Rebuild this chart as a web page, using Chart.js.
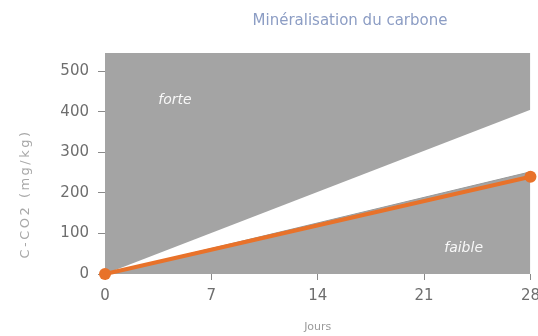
<!DOCTYPE html>
<html>
<head>
<meta charset="utf-8">
<script src="https://cdn.jsdelivr.net/npm/chart.js@4/dist/chart.umd.min.js"></script>
<style>
  html, body { margin: 0; padding: 0; background: #ffffff; overflow: hidden; width: 538px; height: 336px; }
  canvas { display: block; }
</style>
</head>
<body>
<canvas id="c" width="547" height="336"></canvas>
<script>
// ---- data ----
const days = [0, 28];
const forteLimit = [0, 405];   // upper boundary of the "forte" zone
const faibleLimit = [0, 252];  // upper boundary of the "faible" zone
const mesure = [0, 240];       // measured C-CO2
const xTicks = [0, 7, 14, 21, 28];
const yTicks = [0, 100, 200, 300, 400, 500];
const chartTitle = 'Minéralisation du carbone';
const yTitle = 'C-CO2 (mg/kg)';
const xTitle = 'Jours';
const zoneLabels = [
  { text: 'forte', x: 4.6, y: 428 },
  { text: 'faible', x: 23.6, y: 64 }
];

const GRAY = '#a4a4a4';
const ORANGE = '#e8722a';
const FONT = '"DejaVu Sans", sans-serif';

const toXY = (xs, ys) => xs.map((x, i) => ({ x: x, y: ys[i] }));

const textPlugin = {
  id: 'texts',
  afterDraw(chart) {
    const ctx = chart.ctx;
    const xs = chart.scales.x, ys = chart.scales.y;
    ctx.save();
    // chart title
    ctx.font = '15px ' + FONT;
    ctx.fillStyle = '#8c9dc4';
    ctx.textAlign = 'center';
    ctx.textBaseline = 'middle';
    ctx.fillText(chartTitle, 350, 21);
    // y axis title
    ctx.save();
    ctx.translate(26, 194);
    ctx.rotate(-Math.PI / 2);
    ctx.font = '13px ' + FONT;
    ctx.letterSpacing = '2.5px';
    ctx.fillStyle = '#a8a8a8';
    ctx.fillText(yTitle, 0, 0);
    ctx.restore();
    // zone labels
    ctx.font = 'italic 14px ' + FONT;
    ctx.fillStyle = 'rgba(255,255,255,0.92)';
    zoneLabels.forEach(l => {
      ctx.fillText(l.text, xs.getPixelForValue(l.x), ys.getPixelForValue(l.y));
    });
    ctx.restore();
  }
};

new Chart(document.getElementById('c'), {
  type: 'line',
  data: {
    datasets: [
      {
        label: 'forte',
        data: toXY(days, forteLimit),
        fill: 'end',
        backgroundColor: GRAY,
        borderColor: GRAY,
        borderWidth: 0,
        pointRadius: 0,
        order: 3
      },
      {
        label: 'faible',
        data: toXY(days, faibleLimit),
        fill: 'origin',
        backgroundColor: GRAY,
        borderColor: '#9a9a9a',
        borderWidth: 1,
        pointRadius: 0,
        order: 2
      },
      {
        label: 'C-CO2',
        data: toXY(days, mesure),
        fill: false,
        borderColor: ORANGE,
        backgroundColor: ORANGE,
        borderWidth: 4,
        pointRadius: 6,
        pointBorderWidth: 0,
        pointBackgroundColor: ORANGE,
        clip: false,
        order: 1
      }
    ]
  },
  options: {
    responsive: false,
    devicePixelRatio: 1,
    animation: false,
    events: [],
    layout: { padding: { top: 53, left: 0, right: 0, bottom: 0 } },
    plugins: {
      legend: { display: false },
      tooltip: { enabled: false },
      title: { display: false }
    },
    scales: {
      x: {
        type: 'linear',
        min: xTicks[0],
        max: xTicks[xTicks.length - 1],
        afterBuildTicks: s => { s.ticks = xTicks.map(v => ({ value: v })); },
        afterFit: s => { s.height = 62; },
        ticks: {
          color: '#6e6e6e',
          font: { family: FONT, size: 15 },
          padding: 7,
          maxRotation: 0,
          autoSkip: false
        },
        grid: { drawOnChartArea: false, drawTicks: true, tickLength: 6, color: '#8a8a8a' },
        border: { display: false },
        title: {
          display: true,
          text: xTitle,
          color: '#9a9a9a',
          font: { family: FONT, size: 11 },
          padding: { top: 0, bottom: 2 }
        }
      },
      y: {
        type: 'linear',
        min: yTicks[0],
        max: 545,
        afterBuildTicks: s => { s.ticks = yTicks.map(v => ({ value: v })); },
        afterFit: s => { s.width = 105; },
        ticks: {
          color: '#6e6e6e',
          font: { family: FONT, size: 15 },
          padding: 9
        },
        grid: { drawOnChartArea: false, drawTicks: true, tickLength: 7, color: '#8a8a8a' },
        border: { display: false }
      }
    }
  },
  plugins: [textPlugin]
});
</script>
</body>
</html>
